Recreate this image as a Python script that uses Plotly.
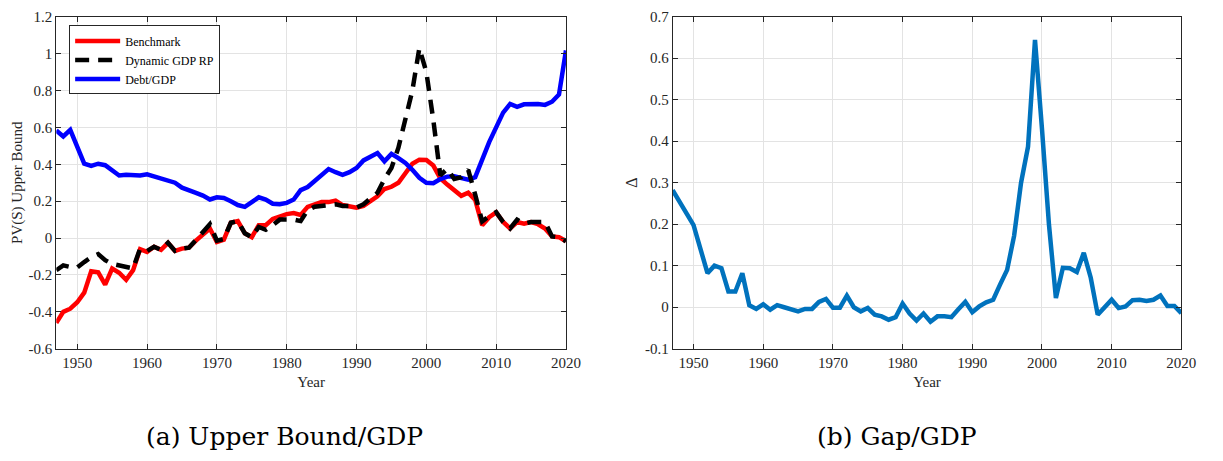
import plotly.graph_objects as go

years = list(range(1947, 2021))

benchmark = [-0.46, -0.40, -0.383, -0.348, -0.296, -0.18, -0.186, -0.252, -0.165, -0.188,
             -0.226, -0.174, -0.06, -0.075, -0.047, -0.064, -0.026, -0.07, -0.057, -0.052,
             -0.014, 0.017, 0.052, -0.021, -0.009, 0.083, 0.092, 0.026, 0.005, 0.07,
             0.07, 0.104, 0.117, 0.13, 0.136, 0.125, 0.169, 0.183, 0.195, 0.195,
             0.203, 0.179, 0.174, 0.165, 0.174, 0.203, 0.226, 0.266, 0.278, 0.30,
             0.355, 0.403, 0.425, 0.423, 0.393, 0.324, 0.29, 0.256, 0.229, 0.246,
             0.207, 0.07, 0.113, 0.139, 0.087, 0.052, 0.087, 0.078, 0.087, 0.075,
             0.052, 0.009, 0.005, -0.017]

dynamic_rp = [-0.174, -0.148, -0.157, -0.16, -0.13, -0.104, -0.087, -0.12, -0.14, -0.148,
              -0.153, -0.165, -0.057, -0.07, -0.047, -0.064, -0.026, -0.07, -0.057, -0.052,
              -0.01, 0.03, 0.075, -0.014, -0.005, 0.083, 0.092, 0.026, 0.005, 0.06,
              0.045, 0.07, 0.1, 0.10, 0.10, 0.092, 0.151, 0.17, 0.175, 0.174,
              0.183, 0.174, 0.174, 0.165, 0.183, 0.215, 0.245, 0.32, 0.38, 0.49,
              0.65, 0.80, 1.03, 0.90, 0.64, 0.34, 0.375, 0.32, 0.33, 0.37,
              0.235, 0.09, 0.12, 0.14, 0.087, 0.052, 0.1, 0.078, 0.087, 0.087,
              0.087, 0.009, 0.005, -0.017]

debt_gdp = [0.583, 0.551, 0.586, 0.49, 0.403, 0.391, 0.403, 0.395, 0.369, 0.339,
            0.343, 0.343, 0.339, 0.346, 0.334, 0.325, 0.308, 0.30, 0.273, 0.256,
            0.245, 0.23, 0.209, 0.221, 0.217, 0.20, 0.179, 0.169, 0.197, 0.221,
            0.209, 0.186, 0.183, 0.191, 0.209, 0.26, 0.277, 0.308, 0.343, 0.374,
            0.357, 0.343, 0.357, 0.38, 0.421, 0.438, 0.461, 0.416, 0.456, 0.433,
            0.407, 0.37, 0.327, 0.30, 0.297, 0.32, 0.333, 0.335, 0.325, 0.317,
            0.33, 0.43, 0.52, 0.60, 0.68, 0.727, 0.711, 0.725, 0.727, 0.727,
            0.722, 0.739, 0.778, 1.017]

gap = [0.282, 0.255, 0.227, 0.198, 0.14, 0.082, 0.10, 0.094, 0.038, 0.038,
       0.082, 0.005, -0.004, 0.007, -0.006, 0.005, 0.0, -0.006, -0.01, -0.004,
       -0.004, 0.013, 0.02, -0.001, -0.001, 0.028, 0.0, -0.01, -0.002, -0.018,
       -0.022, -0.03, -0.024, 0.009, -0.015, -0.032, -0.015, -0.035, -0.022, -0.022,
       -0.024, -0.005, 0.013, -0.012, 0.002, 0.012, 0.018, 0.055, 0.09, 0.172,
       0.30, 0.387, 0.644, 0.43, 0.2, 0.022, 0.095, 0.094, 0.085, 0.131,
       0.071, -0.018, 0.002, 0.018, -0.002, 0.002, 0.017, 0.018, 0.015, 0.018,
       0.028, 0.003, 0.003, -0.014]

x_tickvals = [1950, 1960, 1970, 1980, 1990, 2000, 2010, 2020]
x_ticktext = ["1950", "1960", "1970", "1980", "1990", "2000", "2010", "2020"]
y1_tickvals = [-0.6, -0.4, -0.2, 0, 0.2, 0.4, 0.6, 0.8, 1.0, 1.2]
y1_ticktext = ["-0.6", "-0.4", "-0.2", "0", "0.2", "0.4", "0.6", "0.8", "1", "1.2"]
y2_tickvals = [-0.1, 0, 0.1, 0.2, 0.3, 0.4, 0.5, 0.6, 0.7]
y2_ticktext = ["-0.1", "0", "0.1", "0.2", "0.3", "0.4", "0.5", "0.6", "0.7"]

W, H = 1223, 461
SERIF = "Liberation Serif, Times New Roman, serif"
CAPTION_FONT = "DejaVu Serif, serif"
TXT = "#262626"

fig = go.Figure()
fig.add_trace(go.Scatter(x=years, y=benchmark, mode="lines", name="Benchmark",
                         line=dict(color="#FF0000", width=4.5), legendrank=1,
                         xaxis="x", yaxis="y"))
fig.add_trace(go.Scatter(x=years, y=debt_gdp, mode="lines", name="Debt/GDP",
                         line=dict(color="#0000FF", width=4.5), legendrank=3,
                         xaxis="x", yaxis="y"))
fig.add_trace(go.Scatter(x=years, y=dynamic_rp, mode="lines", name="Dynamic GDP RP",
                         line=dict(color="#000000", width=4.5, dash="14px,9px"), legendrank=2,
                         xaxis="x", yaxis="y"))
fig.add_trace(go.Scatter(x=years, y=gap, mode="lines", name="Gap", showlegend=False,
                         line=dict(color="#0072BD", width=4.5),
                         xaxis="x2", yaxis="y2"))

ytop = 1 - 9 / H
ybot = 1 - 353 / H
common_axis = dict(showline=True, linecolor=TXT, linewidth=1, mirror="ticks",
                   ticks="inside", ticklen=5, tickcolor=TXT,
                   showgrid=True, gridcolor="#e3e3e3", gridwidth=1, zeroline=False,
                   tickfont=dict(family=SERIF, size=15, color=TXT))

fig.update_layout(
    width=W, height=H,
    margin=dict(l=0, r=0, t=0, b=0),
    paper_bgcolor="white", plot_bgcolor="white",
    showlegend=True,
    legend=dict(x=70 / W, y=1 - 18 / H, xanchor="left", yanchor="top",
                bgcolor="white", bordercolor=TXT, borderwidth=1,
                font=dict(family=SERIF, size=12, color="#000000"),
                tracegroupgap=0, itemwidth=45),
    xaxis=dict(domain=[57 / W, 573 / W], range=[1947, 2020],
               tickvals=x_tickvals, ticktext=x_ticktext,
               title=dict(text="Year", font=dict(family=SERIF, size=15, color=TXT), standoff=6),
               anchor="y", **common_axis),
    yaxis=dict(domain=[ybot, ytop], range=[-0.6, 1.2],
               tickvals=y1_tickvals, ticktext=y1_ticktext,
               title=dict(text="PV(S) Upper Bound", font=dict(family=SERIF, size=15, color=TXT), standoff=2),
               anchor="x", **common_axis),
    xaxis2=dict(domain=[681 / W, 1196 / W], range=[1947, 2020],
                tickvals=x_tickvals, ticktext=x_ticktext,
                title=dict(text="Year", font=dict(family=SERIF, size=15, color=TXT), standoff=6),
                anchor="y2", **common_axis),
    yaxis2=dict(domain=[ybot, ytop], range=[-0.1, 0.7],
                tickvals=y2_tickvals, ticktext=y2_ticktext,
                title=dict(text="Δ", font=dict(family=SERIF, size=16, color=TXT), standoff=3),
                anchor="x2", **common_axis),
    annotations=[
        dict(text="(a) Upper Bound/GDP", x=288 / W, y=1 - 444 / H, xref="paper", yref="paper",
             xanchor="center", yanchor="middle", showarrow=False,
             font=dict(family=CAPTION_FONT, size=25, color="#000000")),
        dict(text="(b) Gap/GDP", x=908 / W, y=1 - 444 / H, xref="paper", yref="paper",
             xanchor="center", yanchor="middle", showarrow=False,
             font=dict(family=CAPTION_FONT, size=25, color="#000000")),
    ],
)

fig.write_html("out.html")
